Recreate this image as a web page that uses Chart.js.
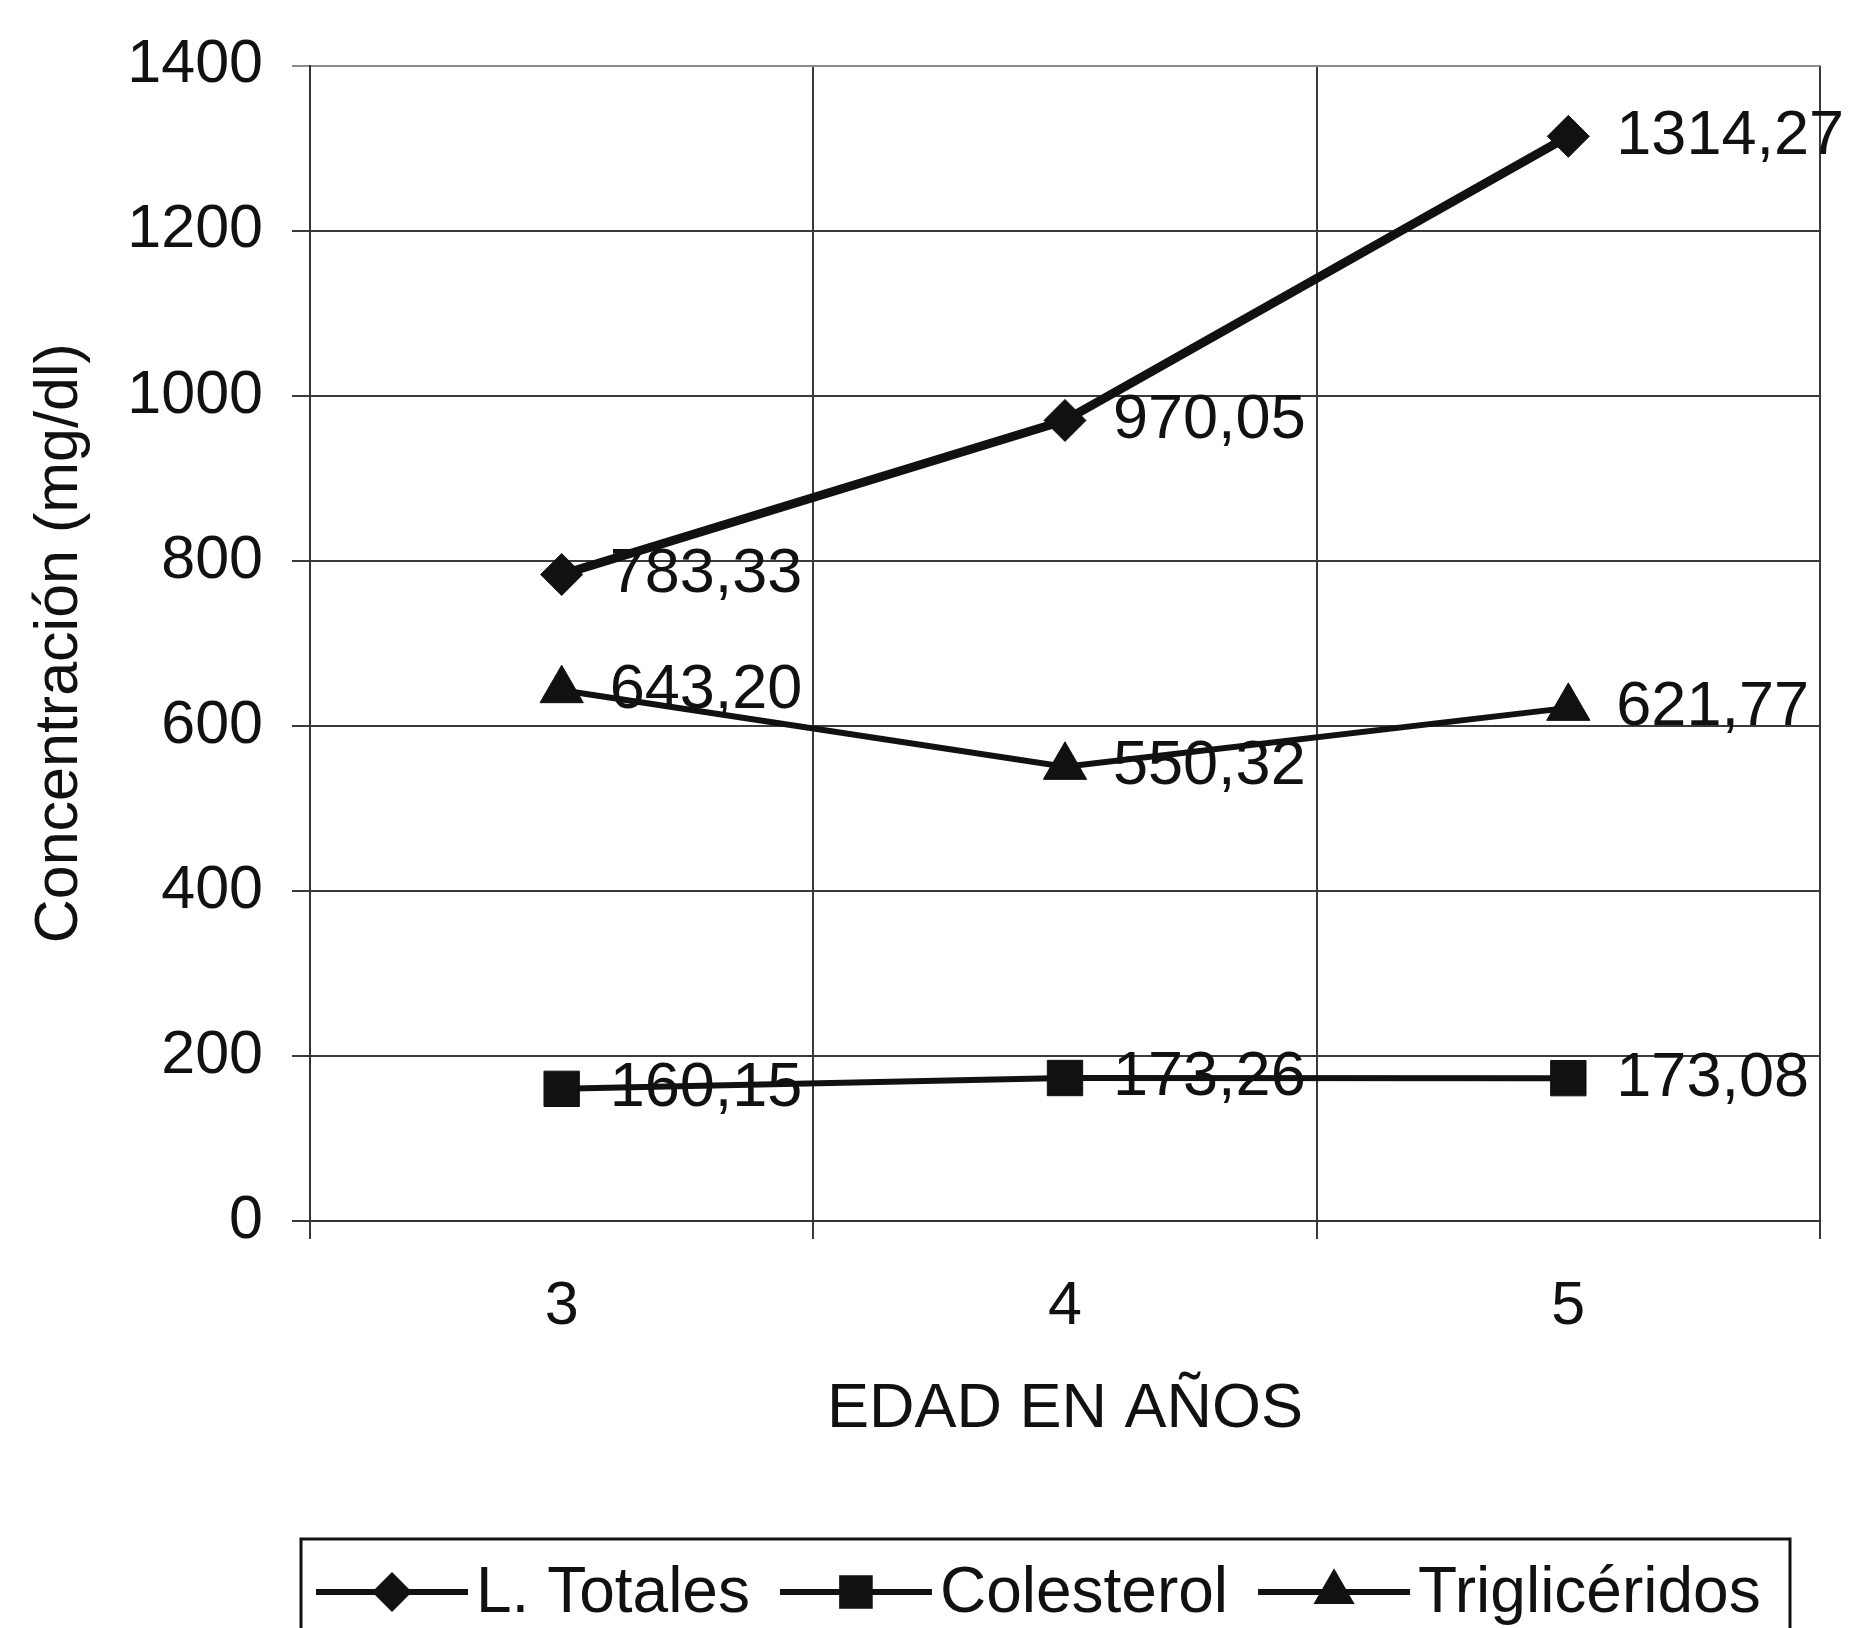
<!DOCTYPE html>
<html>
<head>
<meta charset="utf-8">
<script src="https://cdn.jsdelivr.net/npm/chart.js@4.4.1/dist/chart.umd.min.js"></script>
<style>
  html, body { margin: 0; padding: 0; background: #fff; }
  #wrap { width: 1849px; height: 1628px; }
</style>
</head>
<body>
<div id="wrap"><canvas id="chart" width="1849" height="1628"></canvas></div>
<script>
const ages = ["3", "4", "5"];
const totales = [783.33, 970.05, 1314.27];
const colesterol = [160.15, 173.26, 173.08];
const trigliceridos = [643.20, 550.32, 621.77];
const seriesNames = ["L. Totales", "Colesterol", "Triglicéridos"];
const yMin = 0, yMax = 1400, yStep = 200;

const ink = "#111";
const font = "Liberation Sans, Arial, sans-serif";
const fmt = v => v.toFixed(2).replace(".", ",");

// value labels next to each point
const valueLabels = {
  id: "valueLabels",
  afterDatasetsDraw(chart) {
    const ctx = chart.ctx;
    ctx.save();
    ctx.font = "63px " + font;
    ctx.fillStyle = ink;
    ctx.textAlign = "left";
    ctx.textBaseline = "middle";
    chart.data.datasets.forEach((ds, i) => {
      chart.getDatasetMeta(i).data.forEach((pt, j) => {
        ctx.fillText(fmt(ds.data[j]), pt.x + 48, pt.y);
      });
    });
    ctx.restore();
  }
};

function marker(ctx, style, x, y, r) {
  ctx.beginPath();
  if (style === "rectRot") {
    ctx.moveTo(x, y - r); ctx.lineTo(x + r, y); ctx.lineTo(x, y + r); ctx.lineTo(x - r, y);
  } else if (style === "rect") {
    const s = r * Math.SQRT1_2;
    ctx.rect(x - s, y - s, 2 * s, 2 * s);
  } else {
    ctx.moveTo(x, y - r); ctx.lineTo(x + r * 0.866, y + r / 2); ctx.lineTo(x - r * 0.866, y + r / 2);
  }
  ctx.closePath();
  ctx.fill();
}

// boxed legend with line + marker samples
const boxLegend = {
  id: "boxLegend",
  afterDraw(chart) {
    const ctx = chart.ctx;
    const top = 1539, left = 301, right = 1790, cy = 1592;
    ctx.save();
    ctx.strokeStyle = ink;
    ctx.lineWidth = 3;
    ctx.strokeRect(left, top, right - left, 200);
    ctx.font = "64px " + font;
    ctx.textBaseline = "middle";
    ctx.fillStyle = ink;
    let x = left + 15;
    chart.data.datasets.forEach((ds) => {
      ctx.lineWidth = 6;
      ctx.beginPath(); ctx.moveTo(x, cy); ctx.lineTo(x + 152, cy); ctx.stroke();
      marker(ctx, ds.pointStyle, x + 76, cy, ds.pointRadius * 0.95);
      x += 160;
      ctx.fillText(ds.label, x, cy + 2);
      x += ctx.measureText(ds.label).width + 30;
    });
    ctx.restore();
  }
};

new Chart(document.getElementById("chart"), {
  type: "line",
  data: {
    labels: ages,
    datasets: [
      { label: seriesNames[0], data: totales, pointStyle: "rectRot", pointRadius: 21, borderWidth: 9 },
      { label: seriesNames[1], data: colesterol, pointStyle: "rect", pointRadius: 25, borderWidth: 6 },
      { label: seriesNames[2], data: trigliceridos, pointStyle: "triangle", pointRadius: 25, borderWidth: 6 }
    ].map(d => Object.assign(d, {
      borderColor: ink, backgroundColor: ink,
      pointBackgroundColor: ink, pointBorderColor: ink, pointBorderWidth: 1,
      pointHoverRadius: d.pointRadius, tension: 0, fill: false
    }))
  },
  options: {
    responsive: false,
    animation: false,
    devicePixelRatio: 1,
    layout: { padding: { top: 53, right: 29, bottom: 181, left: 0 } },
    plugins: { legend: { display: false }, tooltip: { enabled: false } },
    scales: {
      x: {
        offset: true,
        grid: {
          offset: true,
          color: c => (c.index === ages.length ? "#8a8a8a" : "#3a3a3a"),
          lineWidth: 2,
          tickLength: 18
        },
        border: { color: "#333", width: 2 },
        ticks: { color: ink, font: { family: font, size: 61 }, padding: 32 },
        title: { display: true, text: "EDAD EN AÑOS", color: ink, font: { family: font, size: 63 }, padding: { top: 0, bottom: 0 } },
        afterFit: s => { s.height = 226; }
      },
      y: {
        min: yMin, max: yMax,
        grid: {
          color: c => (c.tick && c.tick.value === yMax ? "#8a8a8a" : "#3a3a3a"),
          lineWidth: 2,
          tickLength: 18
        },
        border: { color: "#333", width: 2 },
        ticks: { stepSize: yStep, color: ink, font: { family: font, size: 61 }, padding: 29, callback: v => String(v) },
        title: { display: true, text: "Concentración (mg/dl)", color: ink, font: { family: font, size: 61 }, padding: { top: 24, bottom: 0 } },
        afterFit: s => { s.width = 310; }
      }
    }
  },
  plugins: [valueLabels, boxLegend]
});
</script>
</body>
</html>
